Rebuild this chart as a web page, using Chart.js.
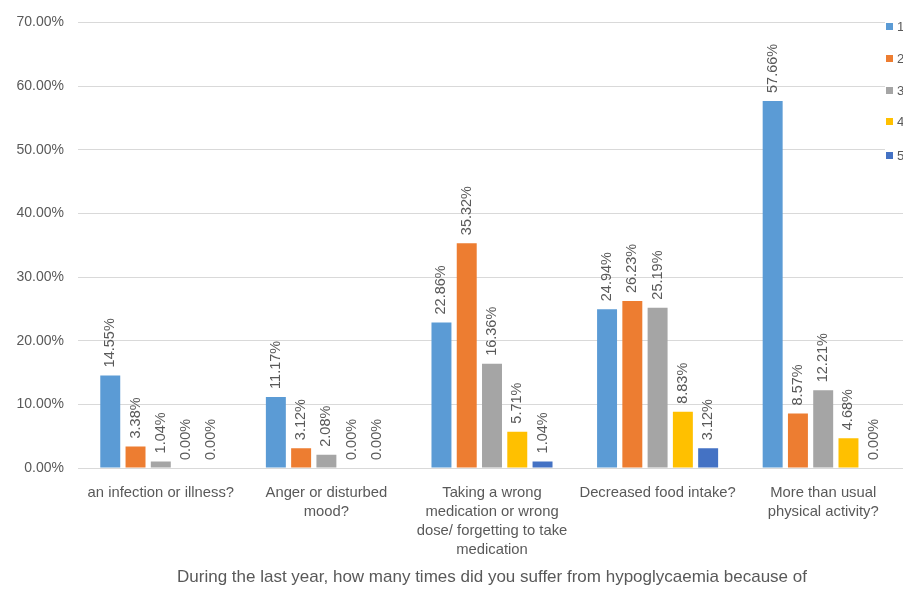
<!DOCTYPE html>
<html>
<head>
<meta charset="utf-8">
<script src="https://cdn.jsdelivr.net/npm/chart.js@4.4.0/dist/chart.umd.min.js"></script>
<style>
  html, body { margin: 0; padding: 0; background: #fff; overflow: hidden; }
  #wrap { position: relative; width: 940px; height: 589px; }
</style>
</head>
<body>
<div id="wrap"><canvas id="c"></canvas></div>
<script>
// Reasons for hypoglycaemia episodes, share of respondents by number of times
const categories = [
  'an infection or illness?',
  ['Anger or disturbed', 'mood?'],
  ['Taking a wrong', 'medication or wrong', 'dose/ forgetting to take', 'medication'],
  'Decreased food intake?',
  ['More than usual', 'physical activity?']
];
const seriesNames = ['1', '2', '3', '4', '5'];
const times1 = [14.55, 11.17, 22.86, 24.94, 57.66];
const times2 = [3.38, 3.12, 35.32, 26.23, 8.57];
const times3 = [1.04, 2.08, 16.36, 25.19, 12.21];
const times4 = [0.00, 0.00, 5.71, 8.83, 4.68];
const times5 = [0.00, 0.00, 1.04, 3.12, 0.00];
const seriesColors = ['#5B9BD5', '#ED7D31', '#A5A5A5', '#FFC000', '#4472C4'];
const axisTitle = 'During the last year, how many times did you suffer from hypoglycaemia because of';

const FONT = '"Liberation Sans", Arial, sans-serif';
const TEXT = '#595959';

// Rotated percentage labels above each bar
const valueLabels = {
  id: 'valueLabels',
  afterDatasetsDraw(chart) {
    const ctx = chart.ctx;
    ctx.save();
    ctx.font = '14.5px ' + FONT;
    ctx.fillStyle = TEXT;
    ctx.textAlign = 'left';
    ctx.textBaseline = 'middle';
    chart.data.datasets.forEach((ds, i) => {
      chart.getDatasetMeta(i).data.forEach((bar, j) => {
        ctx.save();
        ctx.translate(bar.x, bar.y - 8);
        ctx.rotate(-Math.PI / 2);
        ctx.fillText(ds.data[j].toFixed(2) + '%', 0, 0);
        ctx.restore();
      });
    });
    ctx.restore();
  }
};

// Vertical legend sitting on the right edge over the plot
const sideLegend = {
  id: 'sideLegend',
  afterDraw(chart) {
    const ctx = chart.ctx;
    const x0 = 885;
    const rows = [27, 59, 91, 122, 156];
    ctx.save();
    ctx.fillStyle = '#fff';
    ctx.fillRect(x0, 8, chart.width - x0, 165);
    ctx.font = '13px ' + FONT;
    ctx.textAlign = 'left';
    ctx.textBaseline = 'middle';
    chart.data.datasets.forEach((ds, i) => {
      ctx.fillStyle = ds.backgroundColor;
      ctx.fillRect(x0 + 1, rows[i] - 4, 7, 7);
      ctx.fillStyle = TEXT;
      ctx.fillText(ds.label, x0 + 12, rows[i]);
    });
    ctx.restore();
  }
};

const allSeries = [times1, times2, times3, times4, times5];

new Chart(document.getElementById('c'), {
  type: 'bar',
  data: {
    labels: categories,
    datasets: allSeries.map((d, i) => ({
      label: seriesNames[i],
      data: d,
      backgroundColor: seriesColors[i],
      borderWidth: 0,
      categoryPercentage: 0.763,
      barPercentage: 0.79
    }))
  },
  options: {
    responsive: true,
    maintainAspectRatio: false,
    animation: false,
    layout: { padding: { top: 21, right: 34, bottom: 0, left: 0 } },
    plugins: {
      legend: { display: false },
      tooltip: { enabled: false }
    },
    scales: {
      y: {
        min: 0,
        max: 70,
        afterFit(s) { s.width = 78; },
        ticks: {
          stepSize: 10,
          padding: 14,
          color: TEXT,
          font: { family: FONT, size: 14 },
          callback: v => v.toFixed(2) + '%'
        },
        grid: { color: '#D9D9D9', drawTicks: false },
        border: { display: false }
      },
      x: {
        afterFit(s) { s.height = 121; },
        grid: { display: false, drawTicks: false },
        border: { display: true, color: '#D9D9D9' },
        ticks: {
          autoSkip: false,
          maxRotation: 0,
          minRotation: 0,
          padding: 15,
          color: TEXT,
          font: { family: FONT, size: 14.8, lineHeight: '19px' }
        },
        title: {
          display: true,
          text: axisTitle,
          color: TEXT,
          font: { family: FONT, size: 17 },
          padding: { top: 4, bottom: 1 }
        }
      }
    }
  },
  plugins: [valueLabels, sideLegend]
});
</script>
</body>
</html>
